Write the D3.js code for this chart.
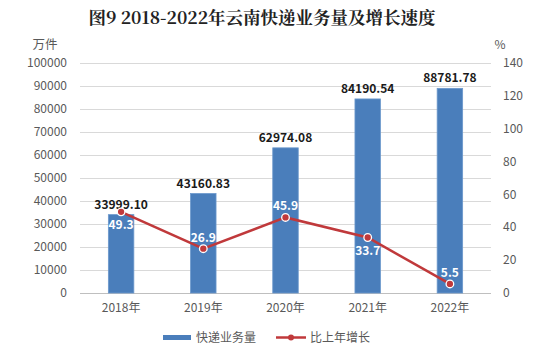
<!DOCTYPE html>
<html><head><meta charset="utf-8">
<script src="https://cdn.jsdelivr.net/npm/d3@7"></script>
<style>body{margin:0;background:#fff}svg{display:block}</style>
</head><body>
<script>
const years = ["2018年","2019年","2020年","2021年","2022年"];
const volume = [33999.10, 43160.83, 62974.08, 84190.54, 88781.78];
const volumeLabels = ["33999.10","43160.83","62974.08","84190.54","88781.78"];
const growth = [49.3, 26.9, 45.9, 33.7, 5.5];
const growthLabelPos = ["below","above","above","below","above"];
const leftTicks = [0,10000,20000,30000,40000,50000,60000,70000,80000,90000,100000];
const rightTicks = [0,20,40,60,80,100,120,140];

const W=543,H=355;
const svg=d3.select("body").append("svg").attr("width",W).attr("height",H);
const font='"Microsoft YaHei","Noto Sans CJK SC",sans-serif';
const x0=80,x1=491,yTop=62.5,yBot=293;
const x=d3.scaleBand().domain(years).range([x0,x1]).paddingInner(0.69).paddingOuter(0.345);
const yL=d3.scaleLinear().domain([0,100000]).range([yBot,yTop]);
const yR=d3.scaleLinear().domain([0,140]).range([yBot,yTop]);

svg.append("text").attr("x",262).attr("y",24).attr("text-anchor","middle")
  .attr("font-family",'"Noto Serif CJK SC","Noto Sans CJK SC",serif').attr("font-weight","bold")
  .attr("font-size",17.5).attr("fill","#222").text("图9  2018-2022年云南快递业务量及增长速度");

svg.append("text").attr("x",45).attr("y",49).attr("text-anchor","middle").attr("font-family",font)
  .attr("font-size",12.5).attr("fill","#595959").text("万件");
svg.append("text").attr("x",500).attr("y",49).attr("text-anchor","middle").attr("font-family",font)
  .attr("font-size",12).attr("fill","#595959").text("%");

// gridlines
svg.append("g").selectAll("line").data(leftTicks).join("line")
  .attr("x1",x0).attr("x2",x1).attr("y1",d=>Math.round(yL(d))+0.5).attr("y2",d=>Math.round(yL(d))+0.5)
  .attr("stroke",d=>d===0?"#bfbfbf":"#d9d9d9").attr("stroke-width",1);

// left axis
const gl=svg.append("g").attr("transform",`translate(${x0},0)`)
  .call(d3.axisLeft(yL).tickValues(leftTicks).tickSize(0).tickPadding(13).tickFormat(d3.format("d")));
gl.select(".domain").remove();
gl.selectAll("text").attr("font-family",font).attr("font-size",12).attr("fill","#595959");

const gr=svg.append("g").attr("transform",`translate(${x1},0)`)
  .call(d3.axisRight(yR).tickValues(rightTicks).tickSize(0).tickPadding(12));
gr.select(".domain").remove();
gr.selectAll("text").attr("font-family",font).attr("font-size",12).attr("fill","#595959");

const gx=svg.append("g").attr("transform",`translate(0,${yBot})`)
  .call(d3.axisBottom(x).tickSize(0).tickPadding(10));
gx.select(".domain").remove();
gx.selectAll("text").attr("font-family",font).attr("font-size",12).attr("fill","#595959");

// bars
svg.append("g").selectAll("rect").data(volume).join("rect")
  .attr("x",(d,i)=>x(years[i])).attr("width",x.bandwidth())
  .attr("y",d=>yL(d)).attr("height",d=>yBot-yL(d))
  .attr("fill","#4a7ebb").attr("stroke","#6b98cc").attr("stroke-width",0.8);

svg.append("g").selectAll("text").data(volume).join("text")
  .attr("x",(d,i)=>x(years[i])+x.bandwidth()/2).attr("y",d=>yL(d)-6)
  .attr("text-anchor","middle").attr("font-family",font).attr("font-weight","bold")
  .attr("font-size",12).attr("fill","#1a1a1a").text((d,i)=>volumeLabels[i]);

// line
const cx=(i)=>x(years[i])+x.bandwidth()/2;
const line=d3.line().x((d,i)=>cx(i)).y(d=>yR(d));
svg.append("path").datum(growth).attr("d",line).attr("fill","none")
  .attr("stroke","#c0393b").attr("stroke-width",2.5);
svg.append("g").selectAll("circle").data(growth).join("circle")
  .attr("cx",(d,i)=>cx(i)).attr("cy",d=>yR(d)).attr("r",3.8)
  .attr("fill","#c0393b").attr("stroke","#fff").attr("stroke-width",1.3);
svg.append("g").selectAll("text").data(growth).join("text")
  .attr("x",(d,i)=>cx(i)).attr("y",(d,i)=>growthLabelPos[i]==="above"?yR(d)-7:yR(d)+17)
  .attr("text-anchor","middle").attr("font-family",font).attr("font-weight","bold")
  .attr("font-size",12).attr("fill","#fff").text(d=>d.toFixed(1));

// legend
const lg=svg.append("g");
lg.append("rect").attr("x",163).attr("y",335).attr("width",28).attr("height",5).attr("fill","#4a7ebb");
lg.append("text").attr("x",196).attr("y",342).attr("font-family",font).attr("font-size",12)
  .attr("fill","#595959").text("快递业务量");
lg.append("line").attr("x1",276).attr("x2",306).attr("y1",337.5).attr("y2",337.5)
  .attr("stroke","#c0393b").attr("stroke-width",2.5);
lg.append("circle").attr("cx",291).attr("cy",337.5).attr("r",3).attr("fill","#c0393b");
lg.append("text").attr("x",310).attr("y",342).attr("font-family",font).attr("font-size",12)
  .attr("fill","#595959").text("比上年增长");
</script>
</body></html>
